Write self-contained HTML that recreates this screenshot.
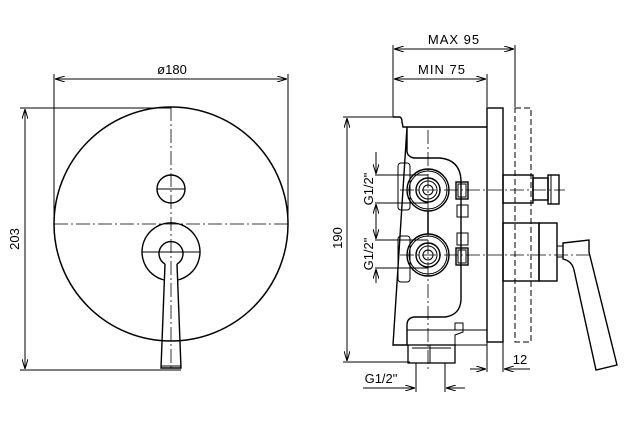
<!DOCTYPE html>
<html><head><style>html,body{margin:0;padding:0;background:#fff}svg{display:block}text{font-family:"Liberation Sans",sans-serif;font-size:13px;fill:#000}</style></head>
<body>
<svg width="635" height="422" viewBox="0 0 635 422" xmlns="http://www.w3.org/2000/svg">
<defs><marker id="a" viewBox="0 0 10 6" refX="10" refY="3" markerWidth="10" markerHeight="6" orient="auto-start-reverse" markerUnits="userSpaceOnUse"><path d="M0,0 L10,3 L0,6" fill="none" stroke="#000" stroke-width="1"/></marker></defs>
<g fill="none" stroke="#000" stroke-width="1">
<line x1="54" y1="74" x2="54" y2="224"/><line x1="288" y1="74" x2="288" y2="224"/>
<line x1="55" y1="79" x2="287" y2="79" marker-start="url(#a)" marker-end="url(#a)"/>
<line x1="20" y1="108" x2="171" y2="108"/><line x1="20" y1="370" x2="162" y2="370"/>
<line x1="25" y1="109" x2="25" y2="369" marker-start="url(#a)" marker-end="url(#a)"/>
<circle cx="171" cy="224" r="117" stroke-width="1.5"/>
<circle cx="171" cy="189" r="14" stroke-width="1.4"/>
<line x1="157" y1="189" x2="185" y2="189"/>
<path d="M164,280 A29,29 0 1 1 178,280" stroke-width="1.4"/>
<path d="M165,264 A12,12 0 1 1 177,264" stroke-width="1.4"/>
<line x1="142" y1="252" x2="200" y2="252"/>
<path d="M165,264 L161,368 L181,368 L177,264" stroke-width="1.4"/>
<line x1="161" y1="366" x2="181" y2="366"/>
<line x1="161" y1="370" x2="181" y2="370"/>
<g stroke-dasharray="14,3,2,3" stroke-width="0.8">
<line x1="171" y1="107" x2="171" y2="368"/>
<line x1="54" y1="224" x2="288" y2="224"/>
</g>
<line x1="393" y1="45" x2="393" y2="117"/><line x1="487" y1="74" x2="487" y2="107"/><line x1="515" y1="45" x2="515" y2="107"/>
<line x1="394" y1="49" x2="514" y2="49" marker-start="url(#a)" marker-end="url(#a)"/>
<line x1="394" y1="79" x2="486" y2="79" marker-start="url(#a)" marker-end="url(#a)"/>
<line x1="343" y1="117" x2="393" y2="117"/><line x1="343" y1="362" x2="410" y2="362"/>
<line x1="347" y1="118" x2="347" y2="361" marker-start="url(#a)" marker-end="url(#a)"/>
<rect x="487" y="108" width="16" height="234" stroke-width="1.4"/>
<rect x="515" y="108" width="16" height="234" stroke-dasharray="6,3"/>
<path d="M393,117 L400,117 Q402,118 402,122 L403,127 Q405,127 407,127 L487,127 M407,127 L407,152 Q408,157 414,158 L440,158 Q460,160 461,180 L461,300 Q460,315 445,317 L414,317 Q407,318 407,325 L407,345 L393,345 Z" stroke-width="1.4"/>
<line x1="407" y1="345" x2="487" y2="345"/>
<path d="M407,345 L407,330 L487,330 M455,330 L455,323 L463,323 L463,332 L455,335 L455,345"/>
<rect x="398" y="163" width="12" height="47" rx="3"/>
<rect x="398" y="236" width="12" height="46" rx="3"/>
<rect x="408" y="345" width="47" height="18" stroke-width="1.3"/>
<line x1="430" y1="345" x2="430" y2="363"/>
<line x1="412" y1="348" x2="451" y2="348"/>
<circle cx="428" cy="190" r="21" stroke-width="1.4"/><circle cx="428" cy="190" r="19"/>
<circle cx="428" cy="190" r="12" stroke-width="1.4"/><circle cx="428" cy="190" r="9"/><circle cx="428" cy="190" r="5"/>
<circle cx="428" cy="255" r="21" stroke-width="1.4"/><circle cx="428" cy="255" r="19"/>
<circle cx="428" cy="255" r="12" stroke-width="1.4"/><circle cx="428" cy="255" r="9"/><circle cx="428" cy="255" r="5"/>
<line x1="428" y1="211" x2="428" y2="234" stroke-width="1.5"/>
<rect x="456" y="182" width="12" height="17" stroke-width="1.4"/><rect x="458" y="184" width="8" height="13"/>
<rect x="456" y="248" width="12" height="17" stroke-width="1.4"/><rect x="458" y="250" width="8" height="13"/>
<rect x="457" y="205" width="11" height="12"/><rect x="457" y="233" width="11" height="12"/>
<line x1="461" y1="217" x2="461" y2="233"/>
<line x1="375" y1="175" x2="428" y2="175"/><line x1="375" y1="203" x2="428" y2="203"/>
<line x1="376" y1="152" x2="376" y2="174" marker-end="url(#a)"/><line x1="376" y1="218" x2="376" y2="204" marker-end="url(#a)"/>
<line x1="375" y1="240" x2="428" y2="240"/><line x1="375" y1="268" x2="428" y2="268"/>
<line x1="376" y1="217" x2="376" y2="239" marker-end="url(#a)"/><line x1="376" y1="283" x2="376" y2="269" marker-end="url(#a)"/>
<line x1="416" y1="363" x2="416" y2="392"/><line x1="445" y1="363" x2="445" y2="392"/>
<line x1="363" y1="388" x2="415" y2="388" marker-end="url(#a)"/><line x1="465" y1="388" x2="446" y2="388" marker-end="url(#a)"/>
<line x1="487" y1="342" x2="487" y2="372"/><line x1="503" y1="342" x2="503" y2="372"/>
<line x1="470" y1="369" x2="486" y2="369" marker-end="url(#a)"/><line x1="530" y1="369" x2="504" y2="369" marker-end="url(#a)"/>
<rect x="503" y="175" width="30" height="28" stroke-width="1.4"/>
<rect x="533" y="178" width="15" height="22" stroke-width="1.4"/>
<rect x="548" y="175" width="11" height="29" stroke-width="1.4"/>
<line x1="551" y1="175" x2="551" y2="204"/>
<rect x="503" y="223" width="36" height="58" stroke-width="1.4"/>
<rect x="539" y="223" width="18" height="58" stroke-width="1.4"/>
<rect x="557" y="246" width="6" height="11"/>
<path d="M563,243 L589,240 L589,252 L617,365 L596,370 L574,270 Q572,261 563,259 Z" stroke-width="1.4"/>
<g stroke-dasharray="14,3,2,3" stroke-width="0.8">
<line x1="428" y1="130" x2="428" y2="372"/>
<line x1="400" y1="190" x2="565" y2="190"/>
<line x1="400" y1="255" x2="590" y2="255"/>
</g>
</g>
<text x="172" y="74" text-anchor="middle">ø180</text>
<text transform="translate(19,239) rotate(-90)" text-anchor="middle">203</text>
<text x="454" y="44" text-anchor="middle" letter-spacing="1">MAX 95</text>
<text x="442" y="74" text-anchor="middle" letter-spacing="1">MIN 75</text>
<text transform="translate(342,238) rotate(-90)" text-anchor="middle">190</text>
<text transform="translate(373,189) rotate(-90)" text-anchor="middle">G1/2"</text>
<text transform="translate(373,254) rotate(-90)" text-anchor="middle">G1/2"</text>
<text x="381" y="383" text-anchor="middle">G1/2"</text>
<text x="520" y="364" text-anchor="middle">12</text>
</svg>
</body></html>
